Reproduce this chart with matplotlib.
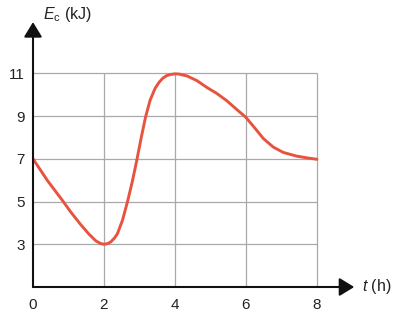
import matplotlib.pyplot as plt

plt.rcParams['font.family'] = ['Liberation Sans', 'DejaVu Sans']
plt.rcParams['mathtext.fontset'] = 'custom'
plt.rcParams['mathtext.rm'] = 'Liberation Sans'
plt.rcParams['mathtext.it'] = 'Liberation Sans:italic'

# data
t = [0, 0.4, 0.83, 1.06, 1.34, 1.58, 1.77, 1.9, 2.0, 2.1, 2.19, 2.29, 2.38, 2.52,
     2.66, 2.80, 2.92, 3.05, 3.17, 3.30, 3.44, 3.55, 3.66, 3.77, 3.88, 4.0,
     4.11, 4.34, 4.62, 4.90, 5.18, 5.46, 5.74, 6.0, 6.26, 6.49, 6.77, 7.05,
     7.42, 7.70, 8.0]
e = [7, 6.0, 5.05, 4.52, 3.93, 3.47, 3.16, 3.04, 3.0, 3.03, 3.11, 3.28, 3.5, 4.12,
     4.98, 5.95, 6.9, 8.0, 8.95, 9.75, 10.3, 10.58, 10.78, 10.9, 10.95, 10.98,
     10.97, 10.88, 10.66, 10.34, 10.06, 9.72, 9.31, 8.94, 8.42, 7.95, 7.55, 7.3,
     7.13, 7.05, 6.98]
xticks = [0, 2, 4, 6, 8]
yticks = [3, 5, 7, 9, 11]

fig = plt.figure(figsize=(3.96, 3.21), dpi=100)
ax = fig.add_axes([33/396, 34/321, 323/396, 267/321])
ax.set_xlim(0, 9.1)
ax.set_ylim(1, 13.5)
for s in ax.spines.values():
    s.set_visible(False)

# grid
grid_c = '#a9a9ab'
ax.vlines(xticks[1:], 1, yticks[-1], color=grid_c, lw=0.9, zorder=1)
ax.hlines(yticks, 0, xticks[-1], color=grid_c, lw=0.9, zorder=1)

# curve
ax.plot(t, e, color='#e8533f', lw=2.1, solid_capstyle='round',
        solid_joinstyle='round', zorder=3)

# axes with arrows
arrow = dict(arrowstyle='-|>,head_length=0.9,head_width=0.55', color='#111111',
             lw=1.5, mutation_scale=10, shrinkA=0, shrinkB=0)
ax.annotate('', xy=(9.05, 1), xytext=(0, 1), arrowprops=arrow, zorder=4)
ax.annotate('', xy=(0, 13.4), xytext=(0, 1), arrowprops=arrow, zorder=4)

ax.set_xticks(xticks, [str(v) for v in xticks])
ax.set_yticks(yticks, [str(v) for v in yticks])
ax.tick_params(axis='x', length=0, pad=8, labelsize=11, colors='#222222')
ax.tick_params(axis='y', length=0, pad=6, labelsize=11, colors='#222222')

ax.text(0.28, 13.55, r'$E_{\mathrm{c}}$ (kJ)', fontsize=11.5, color='#222222',
        va='baseline', ha='left', clip_on=False)
ax.text(9.27, 1, r'$t$ (h)', fontsize=11.5, color='#222222',
        va='center', ha='left', clip_on=False)

fig.savefig('out.png', dpi=100)
